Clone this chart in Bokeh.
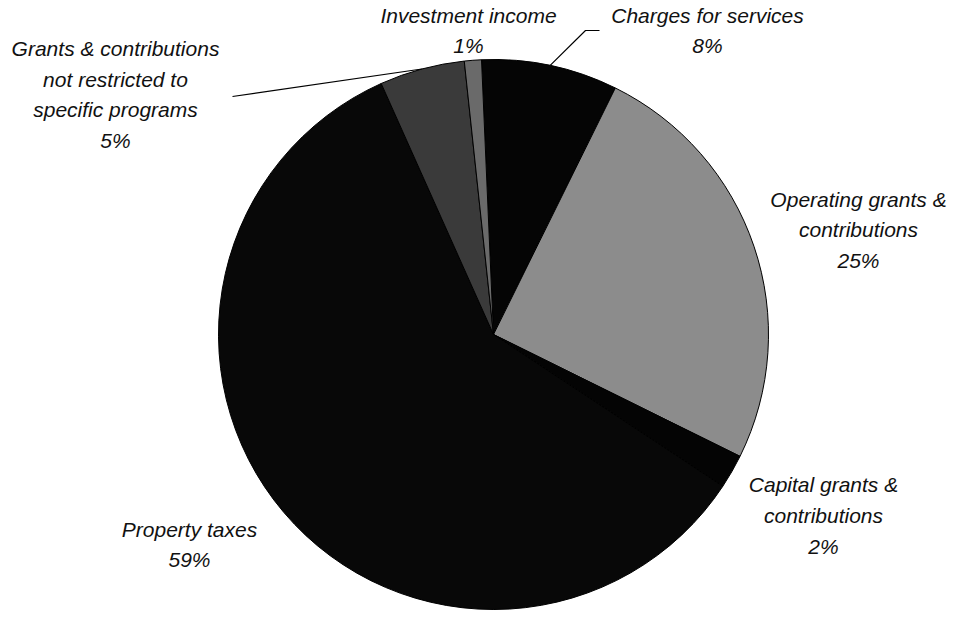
import numpy as np
from bokeh.plotting import figure
from bokeh.models import Range1d, ColumnDataSource
from bokeh.core.properties import value
from bokeh.embed import file_html
from bokeh.resources import INLINE

# ---- data (clockwise from 12 o'clock) ----
categories = [
    "Charges for services",
    "Operating grants & contributions",
    "Capital grants & contributions",
    "Property taxes",
    "Grants & contributions not restricted to specific programs",
    "Investment income",
]
shares = [8, 25, 2, 59, 5, 1]
label_texts = [
    "Charges for services\n8%",
    "Operating grants &\ncontributions\n25%",
    "Capital grants &\ncontributions\n2%",
    "Property taxes\n59%",
    "Grants & contributions\nnot restricted to\nspecific programs\n5%",
    "Investment income\n1%",
]
colors = ["#050505", "#8c8c8c", "#040404", "#080808", "#3a3a3a", "#6a6a6a"]

# ---- layout ----
W, H = 954, 610
cx, cy, R = 493, 276, 275
start_deg = -2.5  # clockwise offset of first slice from 12 o'clock
label_x = [707, 858, 823, 189, 115, 468]
label_y = [580, 380.5, 95, 66, 516, 580]

vals = np.array(shares, dtype=float)
frac = vals / vals.sum()
cum = np.concatenate([[0], np.cumsum(frac)]) * 360 + start_deg
theta1, theta2 = cum[:-1], cum[1:]
start = np.radians(90 - theta2)
end = np.radians(90 - theta1)
mid = np.radians(90 - (theta1 + theta2) / 2)

src = ColumnDataSource(dict(cat=categories, start=start, end=end, color=colors))

p = figure(width=W, height=H, x_range=Range1d(0, W), y_range=Range1d(0, H),
           output_backend="svg", toolbar_location=None,
           x_axis_type=None, y_axis_type=None, min_border=0)
p.grid.visible = False
p.outline_line_color = None
p.background_fill_color = "white"

p.wedge(x=cx, y=cy, radius=R, start_angle="start", end_angle="end",
        fill_color="color", line_color="#000000", line_width=1, source=src)

# leader lines for Charges (0) and Grants not restricted (4)
ex0 = cx + R * np.cos(mid[0]); ey0 = cy + R * np.sin(mid[0])
p.line([599, 585, ex0], [580, 580, ey0], line_color="black", line_width=1.2)
ex4 = cx + R * np.cos(mid[4]); ey4 = cy + R * np.sin(mid[4])
p.line([232, ex4], [514, ey4], line_color="black", line_width=1.2)

lsrc = ColumnDataSource(dict(x=label_x, y=label_y, t=label_texts))
p.text(x="x", y="y", text="t", source=lsrc, text_align="center",
       text_baseline="middle", text_font=value("Liberation Sans"),
       text_font_style="italic", text_font_size="21px",
       text_line_height=1.33, text_color="#111111")

open("out.html", "w").write(file_html(p, INLINE))
